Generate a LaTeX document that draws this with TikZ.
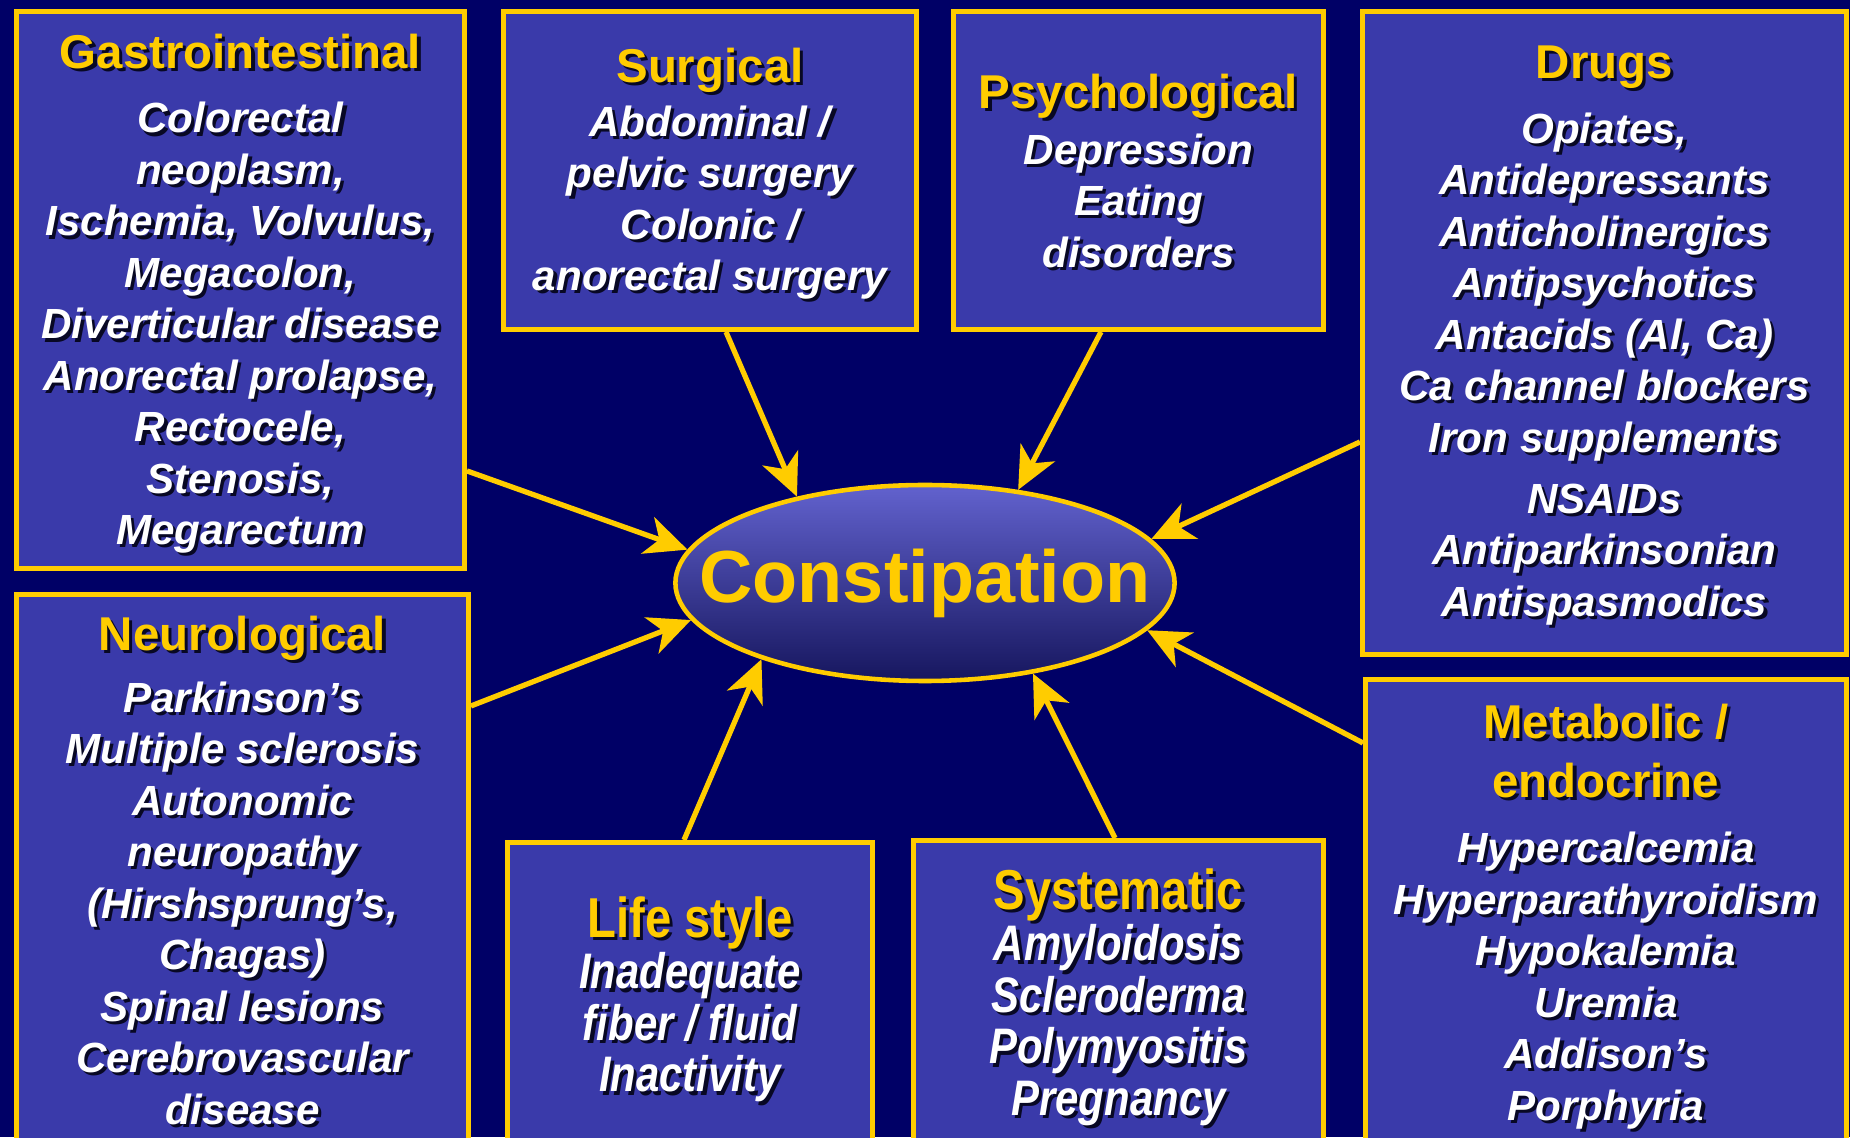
\documentclass[tikz,border=0pt]{standalone}
\usepackage{fontspec}
\setmainfont{Liberation Sans}
\newfontfamily\narrowsf[FakeStretch=0.84]{Liberation Sans}
\usetikzlibrary{shapes,arrows.meta,positioning,calc}

\definecolor{bgnavy}{RGB}{0,0,102}
\definecolor{boxblue}{RGB}{58,58,170}
\definecolor{gold}{RGB}{255,204,0}
\definecolor{ovaltop}{RGB}{98,98,206}
\definecolor{ovalbot}{RGB}{22,22,94}
\definecolor{txtshadow}{RGB}{8,8,36}

% one line of text with a dark drop shadow
\newcommand{\shline}[2][white]{\leavevmode\rlap{\smash{\kern0.9pt\raisebox{-0.9pt}{\color{txtshadow}#2}}}{\color{#1}#2}}
\newcommand{\ttl}[1]{\shline[gold]{\fontsize{13.5}{14.65}\selectfont\bfseries\upshape #1}}
\newcommand{\nttl}[1]{\shline[gold]{\narrowsf\fontsize{16}{14.65}\selectfont\bfseries\upshape #1}}

\tikzset{
  catbox/.style={draw=gold, line width=1.4pt, fill=boxblue, anchor=north west, inner sep=0pt},
  catbody/.style={align=center, inner sep=0pt, text=white, font=\fontsize{12}{14.65}\selectfont\bfseries\itshape},
  narrowbody/.style={catbody, font=\narrowsf\fontsize{14.2}{14.65}\selectfont\bfseries\itshape},
  causearrow/.style={draw=gold, line width=1.5pt, -{Stealth[length=12pt,width=11pt,inset=3.5pt]}}
}

\begin{document}
\begin{tikzpicture}

\useasboundingbox (0,0) rectangle (18.5,11.37);
\fill[bgnavy] (0,0) rectangle (18.5,11.37);

% ================= TOP ROW =================
\node[catbox, minimum width=4.48cm, minimum height=5.57cm] (gi) at (0.14,11.28) {};
\node[catbody, below=0.24cm of gi.north] (gitxt)
{\ttl{Gastrointestinal}\\[3.8pt]
\shline{Colorectal}\\ \shline{neoplasm,}\\ \shline{Ischemia, Volvulus,}\\
\shline{Megacolon,}\\ \shline{Diverticular disease}\\ \shline{Anorectal prolapse,}\\
\shline{Rectocele,}\\ \shline{Stenosis,}\\ \shline{Megarectum}};

\node[catbox, minimum width=4.13cm, minimum height=3.18cm] (su) at (5.01,11.28) {};
\node[catbody, below=0.38cm of su.north] (sutxt)
{\ttl{Surgical}\\[0.7pt]
\shline{Abdominal /}\\ \shline{pelvic surgery}\\ \shline{Colonic /}\\ \shline{anorectal surgery}};

\node[catbox, minimum width=3.70cm, minimum height=3.18cm] (ps) at (9.51,11.28) {};
\node[catbody, below=0.64cm of ps.north] (pstxt)
{\ttl{Psychological}\\[1.3pt]
\shline{Depression}\\ \shline{Eating}\\ \shline{disorders}};

\node[catbox, minimum width=4.84cm, minimum height=6.43cm] (dr) at (13.60,11.28) {};
\node[catbody, below=0.36cm of dr.north] (drtxt)
{\ttl{Drugs}\\[3.8pt]
\shline{Opiates,}\\ \shline{Antidepressants}\\ \shline{Anticholinergics}\\
\shline{Antipsychotics}\\ \shline{Antacids (Al, Ca)}\\ \shline{Ca channel blockers}\\
\shline{Iron supplements}\\[2.7pt] \shline{NSAIDs}\\ \shline{Antiparkinsonian}\\
\shline{Antispasmodics}};

% ================= BOTTOM ROW =================
\node[catbox, minimum width=4.52cm, minimum height=5.8cm] (ne) at (0.14,5.45) {};
\node[catbody, below=0.23cm of ne.north] (netxt)
{\ttl{Neurological}\\[3pt]
\shline{Parkinson’s}\\ \shline{Multiple sclerosis}\\ \shline{Autonomic}\\
\shline{neuropathy}\\ \shline{(Hirshsprung’s,}\\ \shline{Chagas)}\\
\shline{Spinal lesions}\\ \shline{Cerebrovascular}\\ \shline{disease}};

\node[catbox, minimum width=3.65cm, minimum height=3.4cm] (li) at (5.05,2.97) {};
\node[narrowbody, below=0.56cm of li.north] (litxt)
{\nttl{Life style}\\
\shline{Inadequate}\\ \shline{fiber / fluid}\\ \shline{Inactivity}};

\node[catbox, minimum width=4.10cm, minimum height=3.4cm] (sy) at (9.11,2.99) {};
\node[narrowbody, below=0.30cm of sy.north] (sytxt)
{\nttl{Systematic}\\
\shline{Amyloidosis}\\ \shline{Scleroderma}\\ \shline{Polymyositis}\\ \shline{Pregnancy}};

\node[catbox, minimum width=4.81cm, minimum height=5.0cm] (me) at (13.63,4.60) {};
\node[catbody, below=0.26cm of me.north] (metxt)
{\ttl{Metabolic /}\\[2.15pt] \ttl{endocrine}\\[4pt]
\shline{Hypercalcemia}\\ \shline{Hyperparathyroidism}\\ \shline{Hypokalemia}\\
\shline{Uremia}\\ \shline{Addison’s}\\ \shline{Porphyria}};

% ================= CENTRE =================
\node[ellipse, draw=gold, line width=1.3pt, top color=ovaltop, bottom color=ovalbot,
      minimum width=4.98cm, minimum height=1.96cm, inner xsep=-0.49cm, inner ysep=0pt,
      font=\fontsize{21}{24}\selectfont\bfseries, text=gold] (cons) at (9.25,5.54) {Constipation};

% arrow start points on the boxes
\coordinate (giOut) at ([yshift=1.0cm]gi.south east);
\coordinate (neOut) at ([yshift=-1.14cm]ne.north east);
\coordinate (suOut) at ([xshift=2.25cm]su.south west);
\coordinate (psOut) at ([xshift=1.50cm]ps.south west);
\coordinate (drOut) at ([yshift=2.15cm]dr.south west);
\coordinate (meOut) at ([yshift=-0.66cm]me.north west);
\coordinate (liOut) at ([xshift=1.79cm]li.north west);
\coordinate (syOut) at ([xshift=2.04cm]sy.north west);

% causes -> constipation
\foreach \src/\ang in {giOut/172.7, neOut/189.8, suOut/146.4, psOut/45.9,
                       drOut/11.7, meOut/348.2, liOut/205.1, syOut/320.1}
  \draw[causearrow] (\src) -- (cons.\ang);

\end{tikzpicture}
\end{document}
